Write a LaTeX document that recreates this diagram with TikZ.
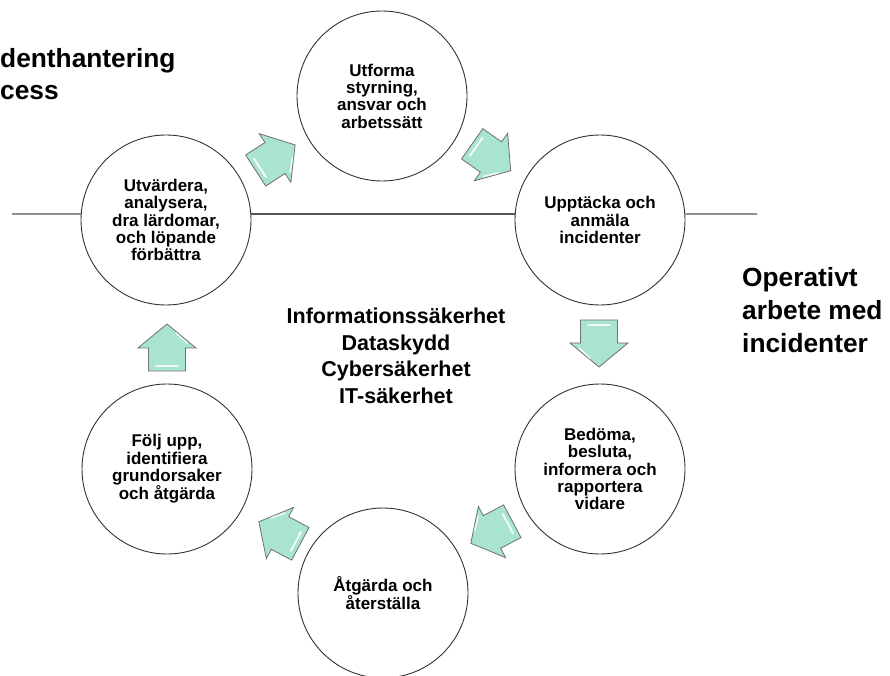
\documentclass[tikz,border=0pt]{standalone}
\usepackage{fontspec}
\setmainfont{Liberation Sans}
\definecolor{mint}{HTML}{A8E4CE}
\definecolor{arrowgray}{HTML}{707070}
\definecolor{circlegray}{HTML}{333333}
\definecolor{linegray}{HTML}{555555}
\tikzset{
  stage/.style={circle, draw=circlegray, line width=0.9pt, fill=white,
    minimum size=170pt, inner sep=0pt, align=center,
    font=\fontsize{17}{17.3}\selectfont\bfseries},
  hline/.style={draw=linegray, line width=1.2pt},
  biglabel/.style={align=left, inner sep=0pt,
    font=\fontsize{26.3}{32.5}\selectfont\bfseries},
  centerlabel/.style={align=center, inner sep=0pt,
    font=\fontsize{21.5}{26.5}\selectfont\bfseries},
  blockarrow/.pic={
    \draw[draw=arrowgray, line width=0.8pt, fill=mint, line join=miter]
      (-23,-18.5) -- (0,-18.5) -- (0,-29) -- (24,0) -- (0,29) -- (0,18.5) -- (-23,18.5) -- cycle;
    \draw[white, line width=2pt, line cap=round, opacity=0.85] (-18,-11) -- (-18,11);
    \draw[white, line width=1.5pt, line cap=round, opacity=0.85] (5,-20) -- (15,-9);
  }
}
\begin{document}
\begin{tikzpicture}[x=1pt,y=1pt]
\useasboundingbox (0,0) rectangle (890,675);

% stages
\node[stage] (L)  at (166,455) {Utvärdera,\\analysera,\\dra lärdomar,\\och löpande\\förbättra};
\node[stage] (T)  at (382,579) {Utforma\\styrning,\\ansvar och\\arbetssätt};
\node[stage] (R)  at (600,455) {Upptäcka och\\anmäla\\incidenter};
\node[stage] (BR) at (600,206) {Bedöma,\\besluta,\\informera och\\rapportera\\vidare};
\node[stage] (B)  at (383,82)  {Åtgärda och\\återställa};
\node[stage] (BL) at (167,206) {Följ upp,\\identifiera\\grundorsaker\\och åtgärda};

% horizontal line
\coordinate (lstart) at (12,461);
\coordinate (rend) at (757,461);
\draw[hline] (lstart) -- (L.176);
\draw[hline] (L.4) -- (R.176);
\draw[hline] (R.4) -- (rend);

% arrows
\pic[rotate=33]  at (275,517) {blockarrow};
\pic[rotate=-35] at (491,518) {blockarrow};
\pic[rotate=-90] at (599,332) {blockarrow};
\pic[rotate=208] at (492,143) {blockarrow};
\pic[rotate=152] at (280,142) {blockarrow};
\pic[rotate=90]  at (167,327) {blockarrow};

% labels (base anchor = last line's baseline)
\node[biglabel, anchor=base west] (title) at (0,575) {denthantering\\cess};
\node[biglabel, anchor=base west] (oper) at (742,323) {Operativt\\arbete med\\incidenter};
\node[centerlabel, anchor=base] (center) at (396,272) {Informationssäkerhet\\Dataskydd\\Cybersäkerhet\\IT-säkerhet};
\end{tikzpicture}
\end{document}
